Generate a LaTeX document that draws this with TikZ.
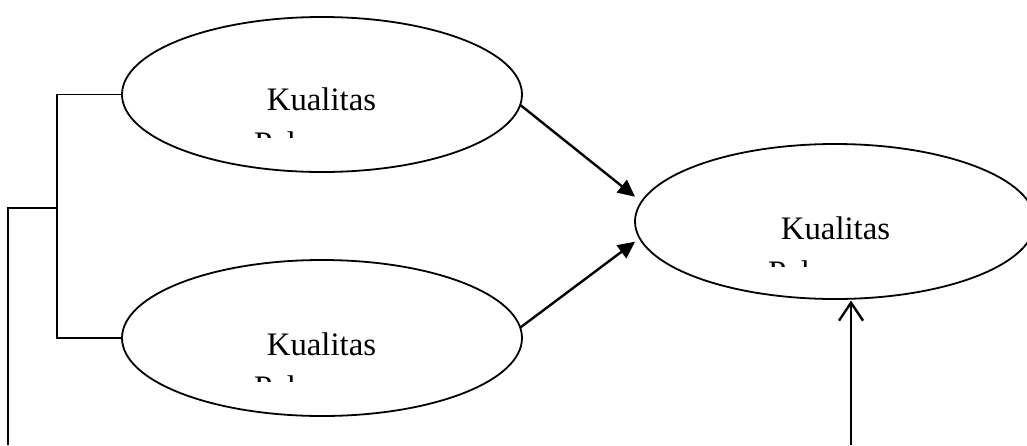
\documentclass[tikz,border=0pt]{standalone}
\usepackage{fontspec}
\setmainfont{Liberation Serif}
\usetikzlibrary{shapes.geometric,arrows.meta}
\begin{document}
\begin{tikzpicture}[x=1pt,y=-1pt,
  oval/.style={draw, ellipse, line width=1.8pt, minimum width=400pt, minimum height=155pt, inner sep=0pt, outer sep=0pt},
  lbl/.style={inner sep=0pt, outer sep=0pt, anchor=base, font=\fontsize{32.8}{43.7}\selectfont},
  conn/.style={line width=1.7pt},
  arr/.style={line width=2.4pt, -{Triangle[length=17pt,width=16pt]}},
  openarr/.style={line width=2.4pt, -{Straight Barb[length=18pt,width=24pt]}}]
\useasboundingbox (0,0) rectangle (1027,445);
% ellipses
\node[oval] (topE) at (322,94.5) {};
\node[oval, minimum height=156pt] (botE) at (322,338) {};
\node[oval] (rightE) at (835,221.5) {};
% clipped labels
\begin{scope}
\clip (0,0) rectangle (1027,137.5);
\node[lbl] (t1a) at (321.5,110.7) {Kualitas};
\node[lbl] (t1b) at (321.5,154.4) {Pelayanan};
\end{scope}
\begin{scope}
\clip (0,300) rectangle (1027,381);
\node[lbl] (t2a) at (321.5,355) {Kualitas};
\node[lbl] (t2b) at (321.5,398.7) {Pelayanan};
\end{scope}
\begin{scope}
\clip (600,150) rectangle (1027,266);
\node[lbl] (t3a) at (835.5,239.3) {Kualitas};
\node[lbl] (t3b) at (835.5,283) {Pelayanan};
\end{scope}
% bracket on the left
\coordinate (j) at (57,208.3);
\coordinate (leftEnd) at (8,445);
\draw[conn] (topE.west) -| (j) |- (botE.west);
\draw[conn] (j) -| (leftEnd);
% arrows into the right ellipse
\coordinate (tipA) at (635,196.7);
\coordinate (tipB) at (635,241.7);
\coordinate (vStart) at (851,445);
\coordinate (tipC) at (851,300.5);
\draw[arr] (topE.-3.5) -- (tipA);
\draw[arr] (botE.3.7) -- (tipB);
\draw[openarr] (vStart) -- (tipC);
\end{tikzpicture}
\end{document}
